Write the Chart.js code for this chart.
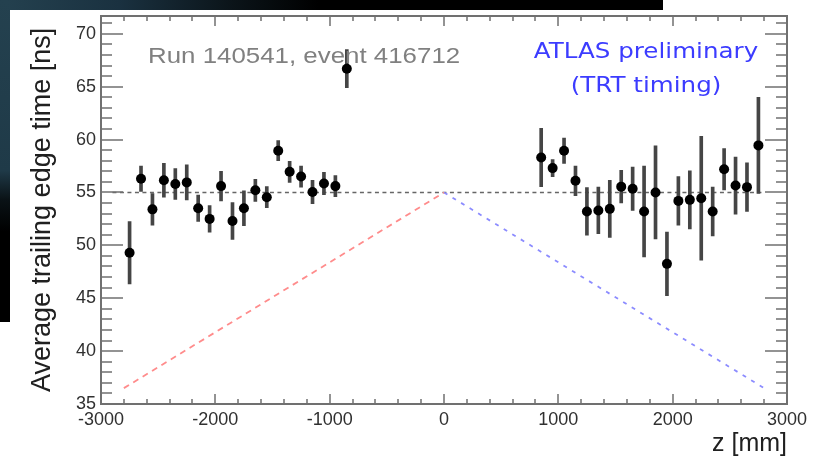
<!DOCTYPE html>
<html>
<head>
<meta charset="utf-8">
<script src="https://cdn.jsdelivr.net/npm/chart.js@4.4.1/dist/chart.umd.min.js"></script>
<style>
  html, body { margin: 0; padding: 0; background: #ffffff; }
  #pad { position: relative; width: 827px; height: 459px; }
  #chart { display: block; background: #ffffff; }
  #frame { position: absolute; left: 0; top: 0; pointer-events: none; }
</style>
</head>
<body>
<div id="pad">
  <canvas id="chart" width="827" height="459"></canvas>
  <canvas id="frame" width="827" height="459"></canvas>
</div>
<script>
// Bin centres along the TRT barrel, z in mm
const zPositions = [
  -2750, -2650, -2550, -2450, -2350, -2250, -2150, -2050, -1950, -1850,
  -1750, -1650, -1550, -1450, -1350, -1250, -1150, -1050, -950, -850,
  850, 950, 1050, 1150, 1250, 1350, 1450, 1550, 1650, 1750,
  1850, 1950, 2050, 2150, 2250, 2350, 2450, 2550, 2650, 2750
];
// Average trailing edge time per bin [ns]
const trailingEdgeTime = [
  49.3, 56.3, 53.4, 56.15, 55.8, 55.95, 53.5, 52.5, 55.6, 52.3,
  53.5, 55.2, 54.55, 58.95, 56.95, 56.5, 55.05, 55.85, 55.6, 66.7,
  58.3, 57.3, 58.95, 56.1, 53.2, 53.3, 53.45, 55.55, 55.35, 53.2,
  55.0, 48.25, 54.2, 54.3, 54.45, 53.2, 57.2, 55.65, 55.5, 59.45
];
// Statistical uncertainty on each bin [ns]
const timeError = [
  2.95, 1.2, 1.5, 1.6, 1.45, 1.65, 1.25, 1.25, 1.4, 1.75,
  1.65, 1.05, 1.0, 0.95, 1.0, 1.0, 1.1, 1.05, 1.0, 1.8,
  2.75, 0.8, 1.2, 1.4, 2.25, 2.2, 2.7, 1.55, 2.05, 4.3,
  4.4, 3.0, 2.3, 2.75, 5.85, 2.3, 1.95, 2.7, 2.3, 4.55
];
// Nominal timing reference level and the expected time-of-flight slopes
const referenceLine = [{ x: -2900, y: 55 }, { x: 2800, y: 55 }];
const negativeSideSlope = [{ x: -2800, y: 36.5 }, { x: 0, y: 55 }];
const positiveSideSlope = [{ x: 0, y: 55 }, { x: 2800, y: 36.5 }];

// Axis ranges and labelled ticks
const xRange = [-3000, 3000];
const yRange = [35, 71.7];
const xTickLabels = [-3000, -2000, -1000, 0, 1000, 2000, 3000];
const yTickLabels = [35, 40, 45, 50, 55, 60, 65, 70];

const markerPoints = zPositions.map((z, i) => ({ x: z, y: trailingEdgeTime[i] }));
const errorBars = zPositions.map((z, i) => ({
  x: z, y: [trailingEdgeTime[i] - timeError[i], trailingEdgeTime[i] + timeError[i]]
}));

// Dark slide edges behind the white pad
function drawSlideEdges(ctx) {
  ctx.save();
  const gTop = ctx.createLinearGradient(0, 0, 663, 0);
  gTop.addColorStop(0, '#24414f');
  gTop.addColorStop(0.18, '#1a3140');
  gTop.addColorStop(0.35, '#0b1419');
  gTop.addColorStop(0.48, '#000000');
  gTop.addColorStop(1, '#000000');
  ctx.fillStyle = gTop;
  ctx.fillRect(0, 0, 663, 10);
  const gLeft = ctx.createLinearGradient(0, 0, 0, 322);
  gLeft.addColorStop(0, '#24414f');
  gLeft.addColorStop(0.53, '#1f3a48');
  gLeft.addColorStop(0.62, '#0a1216');
  gLeft.addColorStop(0.72, '#000000');
  gLeft.addColorStop(1, '#000000');
  ctx.fillStyle = gLeft;
  ctx.fillRect(0, 0, 10, 322);
  ctx.restore();
}

// Frame with inward ticks on all four sides, ROOT style, placed from the chart's scales
function drawFrame(ctx, xs, ys) {
  const L = Math.round(xs.getPixelForValue(xRange[0]));
  const R = Math.round(xs.getPixelForValue(xRange[1]));
  const T = Math.round(ys.getPixelForValue(yRange[1]));
  const B = Math.round(ys.getPixelForValue(yRange[0]));
  ctx.save();
  ctx.fillStyle = '#707070';
  ctx.fillRect(L - 1, T - 1, R - L + 2, 2);
  ctx.fillRect(L - 1, B - 1, R - L + 2, 2);
  ctx.fillRect(L - 1, T - 1, 2, B - T + 2);
  ctx.fillRect(R - 1, T - 1, 2, B - T + 2);
  for (let v = xRange[0]; v <= xRange[1]; v += 200) {
    const px = Math.round(xs.getPixelForValue(v));
    const len = v % 1000 === 0 ? 10 : 5;
    ctx.fillRect(px - 0.75, B - len, 1.5, len);
    ctx.fillRect(px - 0.75, T, 1.5, len);
  }
  for (let v = 35; v <= 71; v += 1) {
    const py = Math.round(ys.getPixelForValue(v));
    const len = v % 5 === 0 ? 22 : 11;
    ctx.fillRect(L, py - 0.75, len, 1.5);
    ctx.fillRect(R - len, py - 0.75, len, 1.5);
  }
  ctx.restore();
}

// In-pad labels, horizontally stretched as printed on the slide
function stretchedText(ctx, text, x, y, font, color, align, sx) {
  ctx.save();
  ctx.font = font;
  ctx.fillStyle = color;
  ctx.textAlign = align;
  ctx.textBaseline = 'alphabetic';
  ctx.translate(x, y);
  ctx.scale(sx, 1);
  ctx.fillText(text, 0, 0);
  ctx.restore();
}

const padPlugin = {
  id: 'padlabels',
  beforeDraw(chart) { drawSlideEdges(chart.ctx); },
  afterDraw(chart) {
    const ctx = chart.ctx;
    stretchedText(ctx, 'Run 140541, event 416712', 148, 63,
      '22px "Liberation Sans", Arial, sans-serif', '#808080', 'left', 1.176);
    stretchedText(ctx, 'ATLAS preliminary', 646, 58,
      '21px "DejaVu Sans", sans-serif', '#3c3cff', 'center', 1.17);
    stretchedText(ctx, '(TRT timing)', 646, 92,
      '21px "DejaVu Sans", sans-serif', '#3c3cff', 'center', 1.17);
  }
};

const chart = new Chart(document.getElementById('chart'), {
  type: 'scatter',
  data: {
    datasets: [
      { type: 'line', data: referenceLine, borderColor: '#666666', borderWidth: 1.4,
        borderDash: [4, 3.5], pointRadius: 0, fill: false, order: 5 },
      { type: 'line', data: negativeSideSlope, borderColor: '#ff8c8c', borderWidth: 1.8,
        borderDash: [6, 5], pointRadius: 0, fill: false, order: 4 },
      { type: 'line', data: positiveSideSlope, borderColor: '#8c8cff', borderWidth: 1.8,
        borderDash: [4, 6], pointRadius: 0, fill: false, order: 4 },
      { type: 'bar', data: errorBars, backgroundColor: '#454545', borderWidth: 0,
        barThickness: 3, grouped: false, order: 2 },
      { type: 'scatter', data: markerPoints, backgroundColor: '#000000', borderWidth: 0,
        pointRadius: 5, order: 1 }
    ]
  },
  options: {
    responsive: false,
    animation: false,
    devicePixelRatio: 1,
    events: [],
    layout: { padding: { top: 15, right: 40, left: 0, bottom: 0 } },
    plugins: { legend: { display: false }, tooltip: { enabled: false } },
    scales: {
      x: {
        type: 'linear', min: xRange[0], max: xRange[1], offset: false,
        grid: { display: false, drawTicks: false },
        border: { display: false },
        afterBuildTicks: s => { s.ticks = xTickLabels.map(v => ({ value: v })); },
        afterFit: s => { s.height = 55; },
        ticks: { color: '#303030', padding: 5, autoSkip: false, maxRotation: 0,
          callback: v => String(v),
          font: { family: '"Liberation Sans", Arial, sans-serif', size: 18 } },
        title: { display: true, text: 'z [mm]', align: 'end', color: '#202020',
          padding: { top: 0, bottom: 0 },
          font: { family: '"Liberation Sans", Arial, sans-serif', size: 25 } }
      },
      y: {
        type: 'linear', min: yRange[0], max: yRange[1],
        grid: { display: false, drawTicks: false },
        border: { display: false },
        afterBuildTicks: s => { s.ticks = yTickLabels.map(v => ({ value: v })); },
        afterFit: s => { s.width = 101; },
        ticks: { color: '#303030', padding: 5, autoSkip: false,
          callback: v => String(v),
          font: { family: '"Liberation Sans", Arial, sans-serif', size: 18 } },
        title: { display: true, text: 'Average trailing edge time [ns]', color: '#202020',
          padding: { top: 26, bottom: 0 },
          font: { family: '"Liberation Sans", Arial, sans-serif', size: 27 } }
      }
    }
  },
  plugins: [padPlugin]
});

// Frame layer on top of the plot, positioned by the chart's own scales
drawFrame(document.getElementById('frame').getContext('2d'), chart.scales.x, chart.scales.y);
</script>
</body>
</html>
